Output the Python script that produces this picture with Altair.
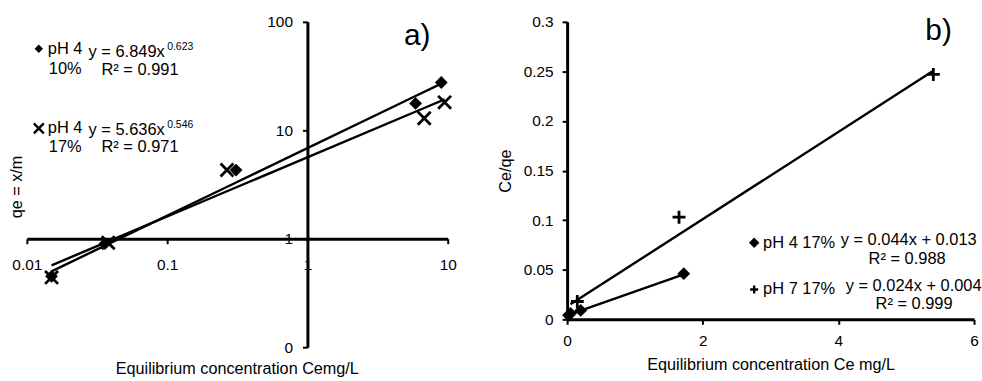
import altair as alt
import pandas as pd

FONT = "Liberation Sans"

# ---------------- Panel a (log-log Freundlich) ----------------
a_dia_x = [0.015, 0.036, 0.31, 5.9, 9.0]
a_dia_y = [0.45, 0.90, 4.3, 17.7, 27.6]
a_cross_x = [0.015, 0.038, 0.267, 6.8, 9.5]
a_cross_y = [0.44, 0.92, 4.3, 12.9, 18.1]
a_dia_fit = (6.849, 0.623)
a_cross_fit = (5.636, 0.546)
a_x_ticks = [0.01, 0.1, 1, 10]
a_y_ticks = [0.1, 1, 10, 100]
a_series_labels = ["pH 4", "10%", "pH 4", "17%"]
a_eq_main = ["y = 6.849x", "y = 5.636x"]
a_eq_sup = ["0.623", "0.546"]
a_r2 = ["R\u00b2 = 0.991", "R\u00b2 = 0.971"]

# ---------------- Panel b (linear Langmuir) ----------------
b_dia_x = [0.02, 0.05, 0.2, 1.72]
b_dia_y = [0.004, 0.006, 0.009, 0.046]
b_plus_x = [0.15, 1.65, 5.4]
b_plus_y = [0.018, 0.103, 0.247]
b_dia_line_x = [0.02, 1.72]
b_plus_line_x = [0.05, 5.4]
b_dia_line = (0.024, 0.004)
b_plus_line = (0.044, 0.013)
b_x_ticks = [0, 2, 4, 6]
b_y_ticks = [0, 0.05, 0.1, 0.15, 0.2, 0.25, 0.3]
b_series_labels = ["pH 4 17%", "pH 7 17%"]
b_eq = ["y = 0.044x + 0.013", "y = 0.024x + 0.004"]
b_r2 = ["R\u00b2 = 0.988", "R\u00b2 = 0.999"]

X_PATH = "M-1,-1L1,1M-1,1L1,-1"
PLUS_PATH = "M-1,0L1,0M0,-1L0,1"

W_A, H_A = 423, 327
W_B, H_B = 409, 299
TITLE_SIZE = 16.3


def text_layer(txt, px, py, size=16.5, align="left", angle=0):
    return alt.Chart(pd.DataFrame({"t": [txt]})).mark_text(
        align=align, baseline="middle", fontSize=size, font=FONT,
        color="black", angle=angle
    ).encode(x=alt.value(px), y=alt.value(py), text="t:N")


def sym_layer(shape, px, py, size, filled):
    kw = dict(shape=shape, size=size, opacity=1)
    if filled:
        kw.update(filled=True, color="black", strokeWidth=0)
    else:
        kw.update(filled=False, stroke="black", strokeWidth=2.4)
    return alt.Chart(pd.DataFrame({"k": [0]})).mark_point(**kw).encode(
        x=alt.value(px), y=alt.value(py))


axis_style = dict(
    grid=False, title=None, domainColor="black", domainWidth=3,
    tickColor="black", tickWidth=2, tickSize=5, labelColor="black",
    labelFont=FONT, labelFontSize=15.5, labelOverlap=False, labelFlush=False,
)

# ---- panel a ----
XA = alt.X("x:Q", scale=alt.Scale(type="log", domain=[0.01, 10], nice=False),
           axis=alt.Axis(values=a_x_ticks, format="~g", offset=-(H_A / 3),
                         labelPadding=14, **axis_style))
YA = alt.Y("y:Q", scale=alt.Scale(type="log", domain=[0.1, 100], nice=False),
           axis=alt.Axis(values=a_y_ticks, format=".0f", offset=-(2 * W_A / 3),
                         labelPadding=10, **axis_style))

a_dia = pd.DataFrame({"x": a_dia_x, "y": a_dia_y})
a_cross = pd.DataFrame({"x": a_cross_x, "y": a_cross_y})

fit_a1 = alt.Chart(pd.DataFrame({"x": a_dia_x})).transform_calculate(
    y=f"{a_dia_fit[0]}*pow(datum.x,{a_dia_fit[1]})"
).mark_line(color="black", strokeWidth=2.4).encode(x=XA, y=YA)
fit_a2 = alt.Chart(pd.DataFrame({"x": a_cross_x})).transform_calculate(
    y=f"{a_cross_fit[0]}*pow(datum.x,{a_cross_fit[1]})"
).mark_line(color="black", strokeWidth=2.4).encode(x=XA, y=YA)

pts_a1 = alt.Chart(a_dia).mark_point(shape="diamond", filled=True, color="black",
                                     size=165, opacity=1).encode(x=XA, y=YA)
pts_a2 = alt.Chart(a_cross).mark_point(shape=X_PATH, filled=False, stroke="black",
                                       strokeWidth=2.8, size=169, opacity=1).encode(x=XA, y=YA)

ox, oy = 27, 21  # reference plot origin for annotation placement
ann_a = [
    sym_layer("diamond", 39 - ox, 48 - oy, 70, True),
    text_layer(a_series_labels[0], 48 - ox, 48 - oy),
    text_layer(a_series_labels[1], 49 - ox, 68 - oy),
    text_layer(a_eq_main[0], 89 - ox, 51 - oy),
    text_layer(a_eq_sup[0], 168 - ox, 46 - oy, size=10.5),
    text_layer(a_r2[0], 102 - ox, 69 - oy),
    sym_layer(X_PATH, 39 - ox, 128 - oy, 100, False),
    text_layer(a_series_labels[2], 48 - ox, 128 - oy),
    text_layer(a_series_labels[3], 49 - ox, 147 - oy),
    text_layer(a_eq_main[1], 89 - ox, 130 - oy),
    text_layer(a_eq_sup[1], 168 - ox, 125 - oy, size=10.5),
    text_layer(a_r2[1], 102 - ox, 147 - oy),
    text_layer("a)", 406 - ox, 35 - oy, size=30),
    text_layer("qe = x/m", -10, 166, size=TITLE_SIZE, align="center", angle=270),
    text_layer("Equilibrium concentration Cemg/L", W_A / 2, 349, size=TITLE_SIZE, align="center"),
]

panel_a = alt.layer(fit_a1, fit_a2, pts_a1, pts_a2, *ann_a).properties(width=W_A, height=H_A)

# ---- panel b ----
XB = alt.X("x:Q", scale=alt.Scale(domain=[0, 6], nice=False),
           axis=alt.Axis(values=b_x_ticks, format="~g", labelPadding=9,
                         **{**axis_style, "title": "Equilibrium concentration Ce mg/L"},
                         titleFont=FONT, titleFontSize=TITLE_SIZE, titleFontWeight="normal",
                         titleColor="black", titlePadding=8))
YB = alt.Y("y:Q", scale=alt.Scale(domain=[0, 0.3], nice=False),
           axis=alt.Axis(values=b_y_ticks, format="~g", labelPadding=9,
                         **{**axis_style, "title": "Ce/qe"},
                         titleFont=FONT, titleFontSize=TITLE_SIZE, titleFontWeight="normal",
                         titleColor="black", titlePadding=10))

fit_b1 = alt.Chart(pd.DataFrame({"x": b_dia_line_x})).transform_calculate(
    y=f"{b_dia_line[0]}*datum.x+{b_dia_line[1]}"
).mark_line(color="black", strokeWidth=2.4).encode(x=XB, y=YB)
fit_b2 = alt.Chart(pd.DataFrame({"x": b_plus_line_x})).transform_calculate(
    y=f"{b_plus_line[0]}*datum.x+{b_plus_line[1]}"
).mark_line(color="black", strokeWidth=2.4).encode(x=XB, y=YB)

pts_b1 = alt.Chart(pd.DataFrame({"x": b_dia_x, "y": b_dia_y})).mark_point(
    shape="diamond", filled=True, color="black", size=165, opacity=1).encode(x=XB, y=YB)
pts_b2 = alt.Chart(pd.DataFrame({"x": b_plus_x, "y": b_plus_y})).mark_point(
    shape=PLUS_PATH, filled=False, stroke="black", strokeWidth=2.8, size=169,
    opacity=1).encode(x=XB, y=YB)

bx, by = 568, 24
ann_b = [
    sym_layer("diamond", 756 - bx, 246 - by, 110, True),
    text_layer(b_series_labels[0], 765 - bx, 246 - by),
    text_layer(b_eq[0], 843 - bx, 243 - by),
    text_layer(b_r2[0], 871 - bx, 262 - by),
    sym_layer(PLUS_PATH, 756 - bx, 293 - by, 64, False),
    text_layer(b_series_labels[1], 765 - bx, 293 - by),
    text_layer(b_eq[1], 848 - bx, 290 - by),
    text_layer(b_r2[1], 878 - bx, 308 - by),
    text_layer("b)", 928 - bx, 33 - by, size=30),
]

panel_b = alt.layer(fit_b1, fit_b2, pts_b1, pts_b2, *ann_b).properties(width=W_B, height=H_B)

chart = alt.hconcat(panel_a, panel_b, spacing=40).properties(
    padding={"left": 9, "top": 14, "right": 0, "bottom": 0},
    background="white",
).configure_view(stroke=None)

chart.save("out.html", embed_options={"renderer": "svg", "actions": False})
